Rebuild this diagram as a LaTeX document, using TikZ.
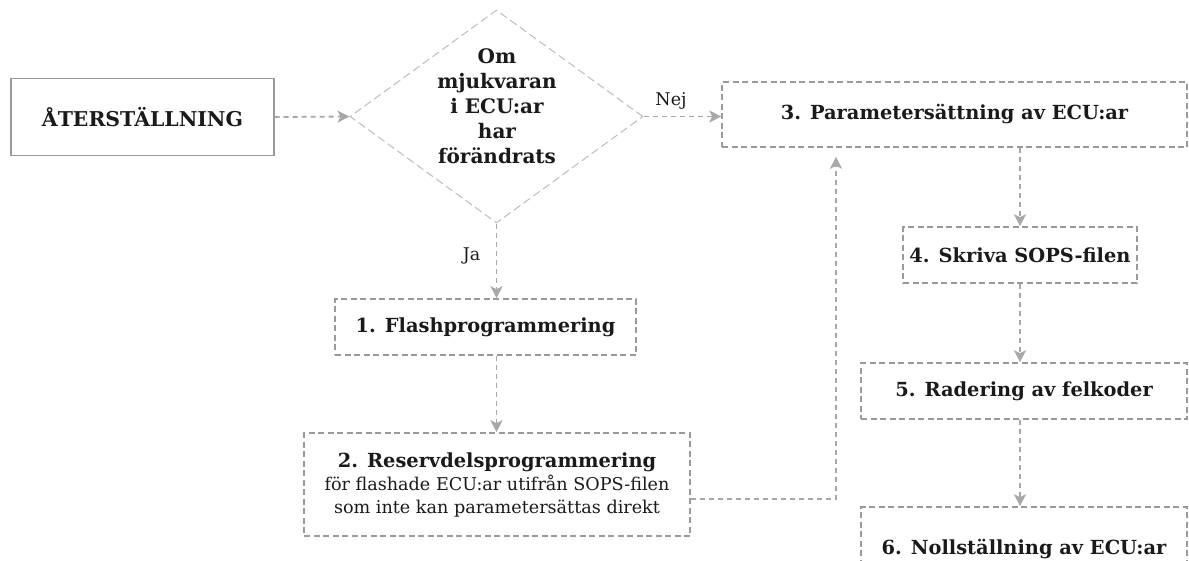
\documentclass[tikz,border=0pt]{standalone}
\usepackage{fontspec}
\setmainfont{DejaVu Serif}
\usetikzlibrary{arrows.meta,shapes.geometric,calc}

\definecolor{boxgray}{HTML}{9A9A9A}
\definecolor{arrowgray}{HTML}{A8A8A8}
\definecolor{diagray}{HTML}{BDBDBD}
\definecolor{ink}{HTML}{1A1A1A}

\begin{document}
\begin{tikzpicture}[x=1pt,y=-1pt,
  every node/.style={text=ink, align=center, inner sep=0pt},
  boldtxt/.style={font=\bfseries\fontsize{19.4}{23}\selectfont},
  startbox/.style={font=\bfseries\fontsize{20.4}{23}\selectfont, draw=boxgray, line width=1.4pt, minimum width=263pt, minimum height=77pt},
  stepbox/.style={boldtxt, draw=boxgray, line width=1.6pt, dash pattern=on 6pt off 3.5pt},
  decision/.style={diamond, draw=diagray, line width=1pt, dash pattern=on 8pt off 4pt, aspect=1.4, minimum width=293pt, minimum height=213pt},
  flow/.style={draw=arrowgray, line width=1.8pt, dash pattern=on 5pt off 4pt, -{Stealth[length=12pt,width=12pt,inset=3pt]}},
  lbl/.style={font=\fontsize{17.5}{20}\selectfont}
]
\clip (0,0) rectangle (1189,560);
\fill[white] (0,0) rectangle (1189,560);

% start and decision
\node[startbox] (start) at (142.5,117) {ÅTERSTÄLLNING};
\node[decision] (dec) at (496.5,116.5) {};
\node[font=\bfseries\fontsize{20}{25}\selectfont] (q) at (497,106) {Om\\mjukvaran\\i ECU:ar\\har\\förändrats};

% process steps
\node[stepbox, minimum width=465pt, minimum height=65pt] (s3) at (954.5,114.5) {3. Parametersättning av ECU:ar};
\node[stepbox, minimum width=301pt, minimum height=56pt] (s1) at (485.5,327) {1. Flashprogrammering};
\node[stepbox, minimum width=386pt, minimum height=103pt] (s2) at (497,484.5)
  {2. Reservdelsprogrammering\\{\mdseries\fontsize{17.6}{23}\selectfont för flashade ECU:ar utifrån SOPS-filen}\\{\mdseries\fontsize{17.6}{23}\selectfont som inte kan parametersättas direkt}};
\node[stepbox, minimum width=234pt, minimum height=56pt] (s4) at (1020,255) {4. Skriva SOPS-filen};
\node[stepbox, minimum width=326pt, minimum height=56pt] (s5) at (1024,391) {5. Radering av felkoder};
\node[stepbox, minimum width=326pt, minimum height=84pt] (s6) at (1024,549) {6. Nollställning av ECU:ar};

% branch labels
\node[lbl] (nej) at (671,101) {Nej};
\node[lbl] (ja) at (471.5,256) {Ja};

% connectors
\draw[flow] (start.east) -- (dec.west);
\draw[flow] (dec.east) -- (dec.east -| s3.west);
\draw[flow] (dec.south) -- (dec.south |- s1.north);
\draw[flow] (s1.south -| dec.south) -- (s2.north -| dec.south);
\draw[flow, shorten >=9pt] ([yshift=-14.5pt]s2.east) -| (836,0 |- s3.south);
\draw[flow] (s3.south -| s4.north) -- (s4.north);
\draw[flow] (s4.south) -- (s4.south |- s5.north);
\draw[flow] (s5.south -| s4.south) -- (s6.north -| s4.south);
\end{tikzpicture}
\end{document}
